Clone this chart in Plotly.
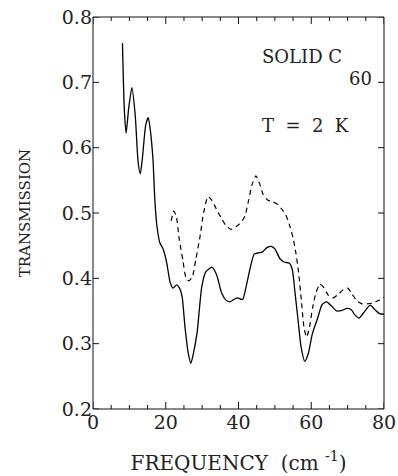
import plotly.graph_objects as go

freq_solid = [8.1, 8.6, 9.1, 9.8, 10.7, 11.6, 12.4, 13.0, 13.6, 14.5, 15.2, 15.8, 16.5, 17.0,
              17.6, 18.4, 19.2, 19.8, 20.3, 21.2, 22.0, 23.0, 23.8, 24.5, 25.3, 26.2, 26.9,
              27.6, 28.6, 29.9, 31.0, 32.7, 34.0, 35.4, 36.5, 37.6, 38.8, 39.8, 40.6, 41.2,
              42.2, 43.1, 44.3, 45.5, 46.5, 47.8, 49.0, 50.0, 51.4, 52.5, 54.0, 54.8, 55.5,
              56.3, 57.2, 58.2, 59.2, 60.3, 61.8, 63.0, 64.2, 65.5, 67.0, 68.5, 69.8, 71.0,
              72.0, 73.1, 74.5, 76.2, 77.5, 78.8, 80.0]
trans_solid = [0.760, 0.660, 0.622, 0.660, 0.692, 0.650, 0.578, 0.560, 0.585, 0.635, 0.646, 0.625,
               0.581, 0.520, 0.479, 0.454, 0.446, 0.435, 0.423, 0.394, 0.385, 0.390, 0.385,
               0.372, 0.325, 0.285, 0.270, 0.285, 0.316, 0.387, 0.410, 0.417, 0.405, 0.377,
               0.367, 0.364, 0.368, 0.370, 0.368, 0.368, 0.390, 0.413, 0.437, 0.439, 0.440,
               0.447, 0.449, 0.445, 0.430, 0.425, 0.423, 0.413, 0.380, 0.340, 0.295, 0.273,
               0.285, 0.315, 0.340, 0.360, 0.364, 0.358, 0.350, 0.351, 0.354, 0.352, 0.344,
               0.339, 0.348, 0.359, 0.352, 0.346, 0.345]

freq_dashed = [21.5, 22.2, 22.9, 23.7, 24.7, 25.5, 26.3, 27.3, 28.3, 29.4, 30.4, 31.6, 32.6,
               34.0, 35.3, 36.5, 37.9, 39.0, 39.8, 41.0, 41.8, 42.8, 43.7, 44.8, 45.8, 46.8,
               48.0, 49.5, 50.8, 52.0, 53.0, 54.0, 55.0, 55.8, 56.5, 57.3, 58.0, 58.7, 59.5,
               60.4, 61.3, 62.4, 63.4, 64.7, 65.9, 67.3, 68.7, 70.0, 71.2, 72.5, 73.9, 75.3,
               76.8, 78.5, 80.0]
trans_dashed = [0.488, 0.503, 0.495, 0.460, 0.428, 0.402, 0.396, 0.402, 0.430, 0.463, 0.500,
                0.525, 0.520, 0.505, 0.492, 0.481, 0.475, 0.478, 0.481, 0.488, 0.496, 0.520,
                0.543, 0.557, 0.545, 0.528, 0.520, 0.517, 0.513, 0.505, 0.497, 0.482, 0.462,
                0.438, 0.410, 0.365, 0.325, 0.310, 0.325, 0.356, 0.378, 0.391, 0.386, 0.374,
                0.370, 0.375, 0.382, 0.385, 0.376, 0.366, 0.361, 0.361, 0.362, 0.366, 0.371]

x_ticks = [0, 20, 40, 60, 80]
x_minor = [5, 10, 15, 25, 30, 35, 45, 50, 55, 65, 70, 75]
y_ticks = [0.2, 0.3, 0.4, 0.5, 0.6, 0.7, 0.8]

FONT = "DejaVu Serif"
W, H = 398, 476
ML, MR, MT, MB = 93, 14, 17, 67
PW, PH = W - ML - MR, H - MT - MB
X0, X1 = 0, 80
Y0, Y1 = 0.2, 0.8

fig = go.Figure()
fig.add_trace(go.Scatter(x=freq_solid, y=trans_solid, mode="lines",
                         line=dict(color="black", width=1.3, shape="spline", smoothing=0.6),
                         showlegend=False, hoverinfo="skip"))
fig.add_trace(go.Scatter(x=freq_dashed, y=trans_dashed, mode="lines",
                         line=dict(color="black", width=1.2, dash="5px,4px",
                                   shape="spline", smoothing=0.6),
                         showlegend=False, hoverinfo="skip"))

# inward tick marks (all four sides), built from the tick arrays
dy_major = 7 / PH * (Y1 - Y0)
dy_minor = 4 / PH * (Y1 - Y0)
dx_tick = 6 / PW * (X1 - X0)
tx, ty = [], []
for v, d in [(t, dy_major) for t in x_ticks] + [(t, dy_minor) for t in x_minor]:
    tx += [v, v, None, v, v, None]
    ty += [Y0, Y0 + d, None, Y1, Y1 - d, None]
for v in y_ticks:
    tx += [X0, X0 + dx_tick, None, X1, X1 - dx_tick, None]
    ty += [v, v, None, v, v, None]
fig.add_trace(go.Scatter(x=tx, y=ty, mode="lines", line=dict(color="#111", width=1),
                         showlegend=False, hoverinfo="skip", cliponaxis=False))

fig.update_layout(
    width=W, height=H, margin=dict(l=ML, r=MR, t=MT, b=MB),
    paper_bgcolor="white", plot_bgcolor="white",
    font=dict(family=FONT, color="black"),
    xaxis=dict(range=[X0, X1], tickvals=x_ticks, ticktext=[str(v) for v in x_ticks],
               showline=False, ticks="", showgrid=False, zeroline=False, automargin=False,
               tickfont=dict(family=FONT, size=19, color="#222"),
               title=dict(text="FREQUENCY  (cm <sup>-1</sup>)",
                          font=dict(family=FONT, size=20, color="#222"), standoff=23)),
    yaxis=dict(range=[Y0, Y1], tickvals=y_ticks, ticktext=[f"{v:.1f}" for v in y_ticks],
               showline=False, ticks="", showgrid=False, zeroline=False, automargin=False,
               tickfont=dict(family=FONT, size=19, color="#222"),
               title=dict(text="TRANSMISSION",
                          font=dict(family=FONT, size=15, color="#222"), standoff=27)),
)

# frame
fig.add_shape(type="rect", xref="paper", yref="paper", x0=0, y0=0, x1=1, y1=1,
              line=dict(color="#111", width=1), fillcolor="rgba(0,0,0,0)", layer="above")

fig.add_annotation(x=0.574, y=0.898, xref="paper", yref="paper", xanchor="left",
                   yanchor="middle", text="SOLID C", showarrow=False,
                   font=dict(family=FONT, size=18, color="#222"))
fig.add_annotation(x=0.873, y=0.844, xref="paper", yref="paper", xanchor="left",
                   yanchor="middle", text="60", showarrow=False,
                   font=dict(family=FONT, size=18, color="#222"))
fig.add_annotation(x=0.574, y=0.722, xref="paper", yref="paper", xanchor="left",
                   yanchor="middle", text="T  =  2  K", showarrow=False,
                   font=dict(family=FONT, size=18, color="#222"))

fig.write_html("out.html", config={"displayModeBar": False},
               post_script="document.body.style.margin='0px';")
